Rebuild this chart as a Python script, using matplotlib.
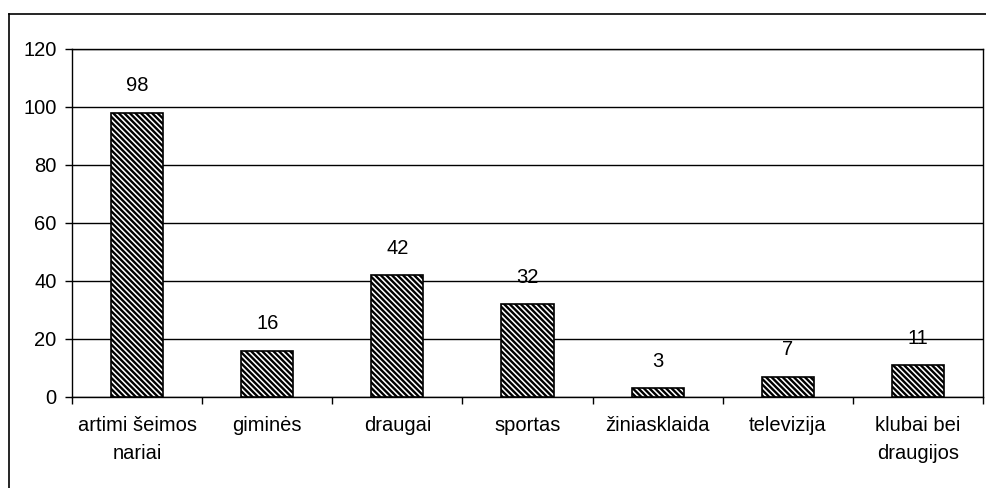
import matplotlib
matplotlib.use("Agg")
import matplotlib.pyplot as plt
from matplotlib.lines import Line2D

categories = ["artimi šeimos\nnariai", "giminės", "draugai", "sportas",
              "žiniasklaida", "televizija", "klubai bei\ndraugijos"]
values = [98, 16, 42, 32, 3, 7, 11]
yticks = [0, 20, 40, 60, 80, 100, 120]

plt.rcParams['font.family'] = ['Liberation Sans', 'DejaVu Sans']
plt.rcParams['hatch.linewidth'] = 1.7
plt.rcParams['hatch.color'] = 'black'

W, H = 986, 488
FS = 14.5
fig = plt.figure(figsize=(W / 100, H / 100), dpi=100)
ax = fig.add_axes([72 / W, 1 - 397 / H, (983 - 72) / W, (397 - 49) / H])

x = list(range(len(categories)))
ax.bar(x, values, width=0.4, color='white', edgecolor='black',
       linewidth=1.2, hatch='\\\\\\\\\\\\', zorder=3)

for xi, v in zip(x, values):
    ax.annotate(str(v), (xi, v), xytext=(0, 12.5), textcoords='offset points',
                ha='center', va='bottom', fontsize=FS)

ax.set_xlim(-0.5, len(categories) - 0.5)
ax.set_ylim(0, 120)
ax.set_yticks(yticks)
ax.set_yticklabels([str(t) for t in yticks], fontsize=FS)
ax.yaxis.grid(True, color='black', linewidth=1.0, zorder=0)
ax.set_axisbelow(True)

ax.set_xticks(x)
ax.set_xticklabels(categories, fontsize=FS, linespacing=1.6)
ax.set_xticks([i - 0.5 for i in range(len(categories) + 1)], minor=True)
ax.tick_params(axis='x', which='major', length=0, pad=14)
ax.tick_params(axis='x', which='minor', length=5, width=1.0, direction='out')
ax.tick_params(axis='y', length=5, width=1.0, direction='out', pad=6)

for s in ax.spines.values():
    s.set_linewidth(1.0)
    s.set_color('black')

# outer chart border
fig.add_artist(Line2D([8.5 / W, 8.5 / W], [0, 1 - 13.5 / H], transform=fig.transFigure,
                      color='black', linewidth=1.2))
fig.add_artist(Line2D([8.5 / W, 1], [1 - 13.5 / H, 1 - 13.5 / H], transform=fig.transFigure,
                      color='black', linewidth=1.2))

fig.savefig("out.png", dpi=100)
